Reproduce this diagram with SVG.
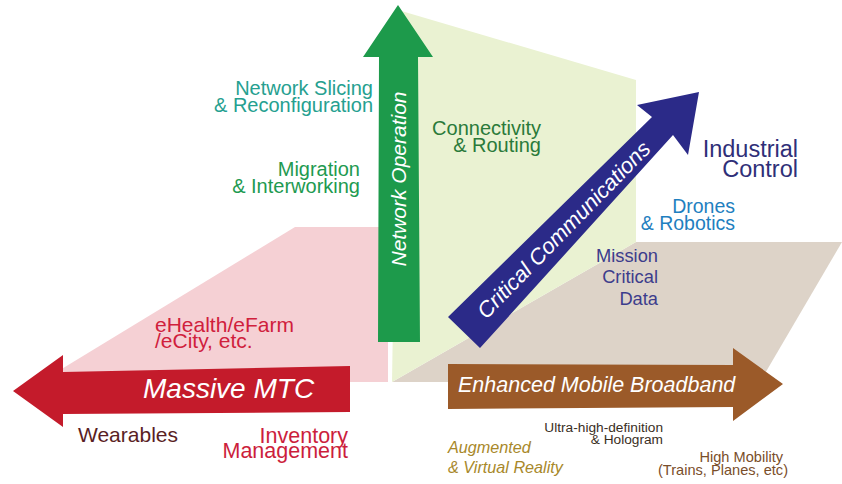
<svg xmlns="http://www.w3.org/2000/svg" width="842" height="484" viewBox="0 0 842 484">
<style>
text{font-family:"Liberation Sans",Arial,sans-serif}
.in{fill:#ffffff;font-style:italic}
.r{text-anchor:end}
</style>
<rect width="842" height="484" fill="#ffffff"/>
<g id="planes">
<polygon id="plane-mtc" points="60,370 295,227 388,227 388,382 60,382" fill="#f5d0d4"/>
<polygon id="plane-embb" points="392,382 636,242 842,242 760,382" fill="#ddd3c8"/>
<polygon id="plane-netop" points="398,10 636,80 636,242 392,382" fill="#eaf2d2"/>
</g>
<g id="connectors">
<polygon id="arrow-netop" points="398,5 433,57 418,57 420,342 378,342 379,57 363,57" fill="#1d9a4b"/>
<polygon id="arrow-mtc" points="13,391 63,355 63,372 350,366 350,412 63,414 63,427" fill="#c41b2b"/>
<polygon id="arrow-embb" points="448,364 733,365 733,348 783,384 733,421 733,407 448,409" fill="#9b5a29"/>
<polygon id="arrow-crit" points="448,317 652,117 637,105 699,92 688,155 673,135 480,348" fill="#2b2a88"/>
</g>
<g id="node-netop">
<text class="in" font-size="21" text-anchor="middle" transform="translate(406,179) rotate(-90)">Network Operation</text>
</g>
<g id="node-mtc">
<text class="in" font-size="28" x="143" y="398">Massive MTC</text>
</g>
<g id="node-embb">
<text class="in" font-size="21.5" x="458" y="392">Enhanced Mobile Broadband</text>
</g>
<g id="node-crit">
<text class="in" font-size="22" text-anchor="middle" transform="translate(569,235) rotate(-45.7)">Critical Communications</text>
</g>
<g id="node-slicing" fill="#26a090" font-size="20">
<text class="r" x="373" y="95">Network Slicing</text>
<text class="r" x="373" y="112">&amp; Reconfiguration</text>
</g>
<g id="node-migration" fill="#1e9a50" font-size="20">
<text class="r" x="360" y="176">Migration</text>
<text class="r" x="360" y="193">&amp; Interworking</text>
</g>
<g id="node-connectivity" fill="#2a7a3a" font-size="20">
<text class="r" x="541" y="135">Connectivity</text>
<text class="r" x="541" y="152">&amp; Routing</text>
</g>
<g id="node-industrial" fill="#2f2f78" font-size="23.5">
<text class="r" x="798" y="157">Industrial</text>
<text class="r" x="798" y="177">Control</text>
</g>
<g id="node-drones" fill="#1f80c0" font-size="19.5">
<text class="r" x="735" y="213">Drones</text>
<text class="r" x="735" y="230">&amp; Robotics</text>
</g>
<g id="node-mission" fill="#3c3c8c" font-size="18.3">
<text class="r" x="658" y="262">Mission</text>
<text class="r" x="658" y="283">Critical</text>
<text class="r" x="658" y="305">Data</text>
</g>
<g id="node-ehealth" fill="#d0203c" font-size="21">
<text x="155" y="332">eHealth/eFarm</text>
<text x="155" y="348">/eCity, etc.</text>
</g>
<g id="node-wearables" fill="#5a1e24" font-size="21">
<text x="78" y="442">Wearables</text>
</g>
<g id="node-inventory" fill="#cc1e3c" font-size="21.5">
<text class="r" x="348" y="443">Inventory</text>
<text class="r" x="348" y="458">Management</text>
</g>
<g id="node-uhd" fill="#3a2e1e" font-size="13.7">
<text class="r" x="663" y="432">Ultra-high-definition</text>
<text class="r" x="663" y="444">&amp; Hologram</text>
</g>
<g id="node-ar" fill="#a8882a" font-size="16.2" font-style="italic">
<text x="448" y="453">Augmented</text>
<text x="448" y="473">&amp; Virtual Reality</text>
</g>
<g id="node-mobility" fill="#7a4e2a" font-size="14.6">
<text class="r" x="783" y="462">High Mobility</text>
<text class="r" x="788" y="475">(Trains, Planes, etc)</text>
</g>
</svg>
